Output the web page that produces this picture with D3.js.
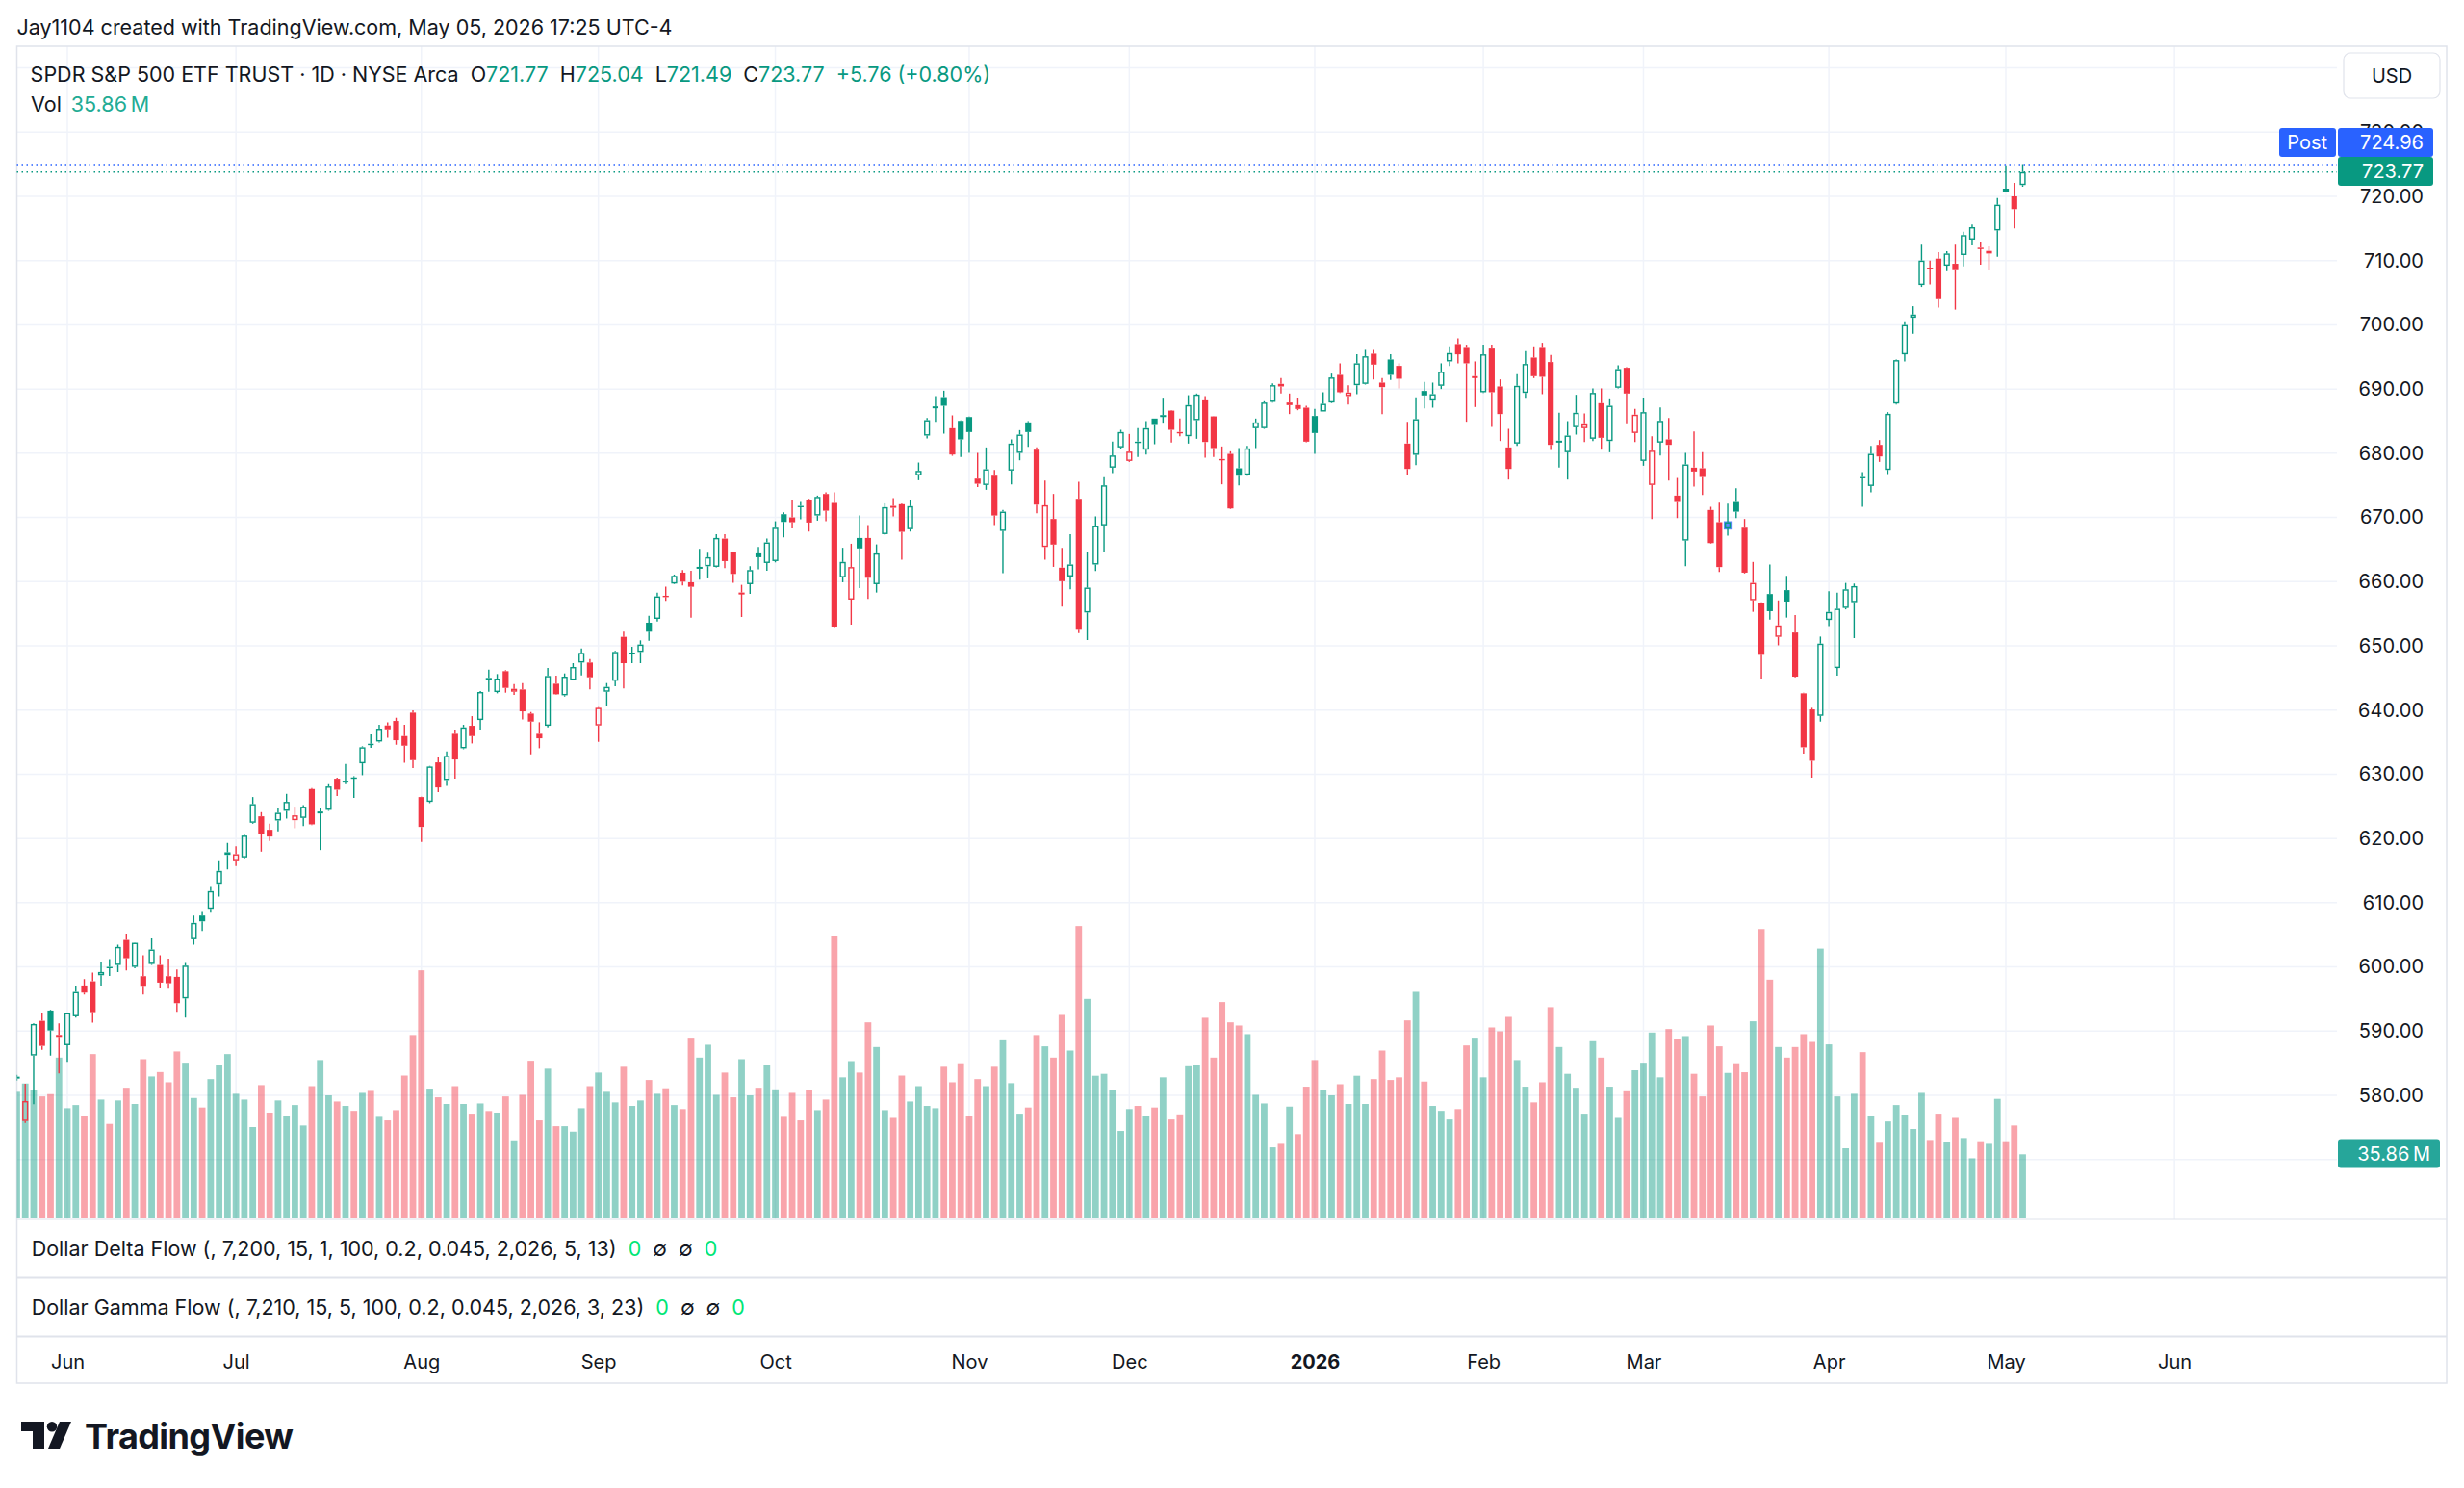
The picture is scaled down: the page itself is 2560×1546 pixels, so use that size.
<!DOCTYPE html>
<html>
<head>
<meta charset="utf-8">
<script src="https://cdnjs.cloudflare.com/ajax/libs/d3/7.8.5/d3.min.js"></script>
<style>
  html, body { margin: 0; padding: 0; background: #fff; }
  svg { display: block; font-family: Inter, "Noto Sans", Roboto, sans-serif; }
</style>
</head>
<body>
<div id="chart"></div>
<script>
// DATA — SPY daily, 2025-05-22 .. 2026-05-05
const holidays = ["2025-05-26", "2025-06-19", "2025-07-04", "2025-09-01", "2025-11-27",
  "2025-12-25", "2026-01-01", "2026-01-19", "2026-02-16", "2026-04-03", "2026-05-25"];

const opens = [
  582.6, 576.0, 586.2, 591.6, 593.2, 589.1, 587.8, 592.3, 597.1, 597.75,
  598.7, 600.0, 600.3, 604.2, 600.0, 598.55, 600.45, 600.3, 598.55, 598.45,
  595.1, 604.3, 608.0, 609.05, 612.95, 617.45, 616.45, 617.05, 622.45, 623.45,
  621.35, 622.8, 624.3, 622.85, 623.2, 627.7, 623.9, 624.45, 629.3, 628.85,
  629.5, 631.7, 634.75, 635.1, 637.6, 638.3, 635.95, 639.6, 626.45, 625.7,
  631.85, 629.1, 636.3, 634.05, 637.55, 638.45, 645.0, 642.8, 646.05, 642.85,
  643.2, 639.45, 636.3, 637.55, 644.1, 642.3, 644.7, 647.4, 647.4, 637.6,
  642.85, 644.55, 651.4, 648.8, 649.05, 653.6, 654.2, 657.8, 659.7, 661.4,
  659.9, 662.0, 662.4, 662.3, 666.7, 664.6, 658.1, 659.6, 664.4, 662.9,
  663.2, 670.5, 670.0, 671.8, 672.65, 670.3, 673.65, 672.26, 660.67, 657.2,
  666.8, 666.8, 659.6, 667.4, 671.8, 672.06, 668.16, 676.55, 682.75, 687.2,
  688.74, 683.9, 685.04, 685.64, 676.05, 675.05, 676.5, 667.9, 677.3, 680.05,
  684.8, 680.55, 665.4, 669.76, 662.17, 660.8, 672.9, 655.2, 662.67, 668.76,
  677.75, 680.9, 678.8, 681.8, 680.55, 685.4, 685.84, 686.64, 683.3, 682.65,
  685.15, 688.24, 685.74, 679.1, 679.9, 677.65, 676.65, 683.9, 683.9, 688.0,
  690.8, 687.5, 687.5, 687.1, 685.8, 686.5, 687.9, 692.2, 688.9, 690.6,
  690.8, 695.5, 691.0, 694.6, 693.6, 681.5, 679.75, 689.7, 688.2, 690.5,
  694.3, 697.0, 696.4, 691.9, 689.5, 696.3, 690.4, 680.9, 681.5, 689.4,
  694.9, 696.4, 694.2, 681.85, 680.15, 684.05, 683.9, 682.25, 687.8, 681.9,
  690.2, 693.3, 683.15, 678.8, 675.06, 681.65, 682.15, 673.4, 666.4, 677.75,
  677.65, 671.16, 669.26, 668.26, 672.4, 668.4, 657.1, 656.6, 658.07, 651.4,
  658.68, 652.08, 642.6, 640.1, 639.1, 654.03, 646.54, 655.9, 656.8, 676.3,
  674.9, 681.3, 677.4, 687.74, 695.4, 701.1, 706.2, 708.9, 710.3, 709.2,
  709.5, 710.86, 713.26, 712.0, 711.1, 714.7, 721.2, 720.0, 721.77
];
const highs = [
  583.2, 581.8, 591.2, 592.8, 593.3, 591.2, 592.9, 597.1, 598.1, 599.1,
  600.8, 601.2, 603.45, 605.2, 603.8, 601.8, 604.45, 601.8, 601.3, 599.6,
  600.6, 608.0, 608.55, 612.45, 616.45, 619.3, 618.8, 620.6, 626.45, 624.1,
  622.3, 624.8, 626.95, 624.95, 625.2, 627.85, 624.8, 628.45, 629.45, 631.6,
  629.7, 634.35, 636.2, 637.7, 638.1, 638.8, 637.7, 639.95, 626.5, 631.3,
  632.7, 633.55, 636.95, 637.7, 639.05, 642.95, 646.3, 645.6, 646.2, 644.05,
  644.2, 639.7, 638.1, 646.55, 645.35, 645.7, 647.3, 649.6, 647.95, 640.45,
  644.2, 649.2, 652.2, 649.85, 650.85, 654.7, 658.3, 659.2, 661.1, 661.8,
  661.7, 665.1, 664.5, 667.4, 667.4, 664.7, 659.5, 662.4, 665.4, 666.7,
  669.4, 670.8, 672.75, 672.4, 672.9, 673.4, 673.9, 673.9, 665.27, 665.9,
  670.3, 668.8, 665.8, 672.2, 673.0, 672.2, 672.76, 678.55, 685.5, 688.9,
  689.74, 685.9, 685.1, 685.7, 680.05, 680.9, 677.4, 671.16, 682.15, 683.6,
  685.0, 680.9, 675.75, 673.66, 665.27, 667.4, 675.55, 664.6, 670.16, 676.26,
  681.8, 683.65, 683.0, 683.9, 685.0, 685.4, 688.5, 686.74, 685.4, 689.04,
  689.3, 688.9, 685.8, 681.05, 680.3, 680.8, 681.15, 685.4, 688.1, 690.9,
  691.7, 689.3, 688.6, 687.4, 686.9, 689.5, 692.4, 694.0, 690.6, 695.4,
  696.1, 696.1, 691.7, 695.4, 694.0, 684.9, 688.7, 691.1, 691.0, 694.0,
  696.5, 697.9, 696.9, 694.3, 696.9, 696.9, 691.5, 683.8, 692.3, 695.9,
  696.5, 697.2, 695.3, 686.3, 685.0, 689.1, 686.2, 690.1, 690.1, 688.4,
  693.7, 693.4, 686.9, 688.6, 682.65, 687.14, 685.5, 676.15, 680.05, 683.4,
  680.15, 671.66, 672.3, 672.16, 674.55, 669.76, 663.07, 656.8, 662.67, 657.08,
  660.9, 654.8, 642.7, 640.35, 651.44, 658.5, 658.28, 659.8, 659.7, 677.05,
  681.15, 682.05, 686.4, 694.6, 700.4, 702.9, 712.45, 710.0, 711.3, 711.46,
  712.45, 714.5, 715.6, 712.96, 712.2, 719.75, 724.85, 722.1, 725.04
];
const lows = [
  582.3, 575.7, 578.6, 587.1, 586.2, 583.4, 585.2, 592.1, 595.7, 591.3,
  597.1, 598.6, 599.2, 599.45, 599.8, 595.7, 600.3, 596.8, 596.6, 593.0,
  592.1, 603.45, 605.6, 608.45, 610.95, 615.2, 615.7, 616.8, 622.3, 617.95,
  619.6, 621.1, 623.1, 621.6, 621.95, 622.1, 618.2, 624.3, 626.6, 628.45,
  626.3, 629.85, 634.1, 634.95, 635.7, 634.6, 631.8, 630.95, 619.45, 625.5,
  627.2, 628.2, 629.3, 633.9, 634.8, 636.95, 642.85, 642.6, 642.7, 642.35,
  638.55, 633.1, 634.05, 637.3, 642.4, 642.1, 644.6, 645.4, 643.2, 635.05,
  640.6, 643.7, 643.35, 647.3, 647.3, 650.8, 653.8, 657.0, 659.6, 659.4,
  654.4, 660.3, 660.5, 662.2, 662.1, 659.8, 654.5, 658.1, 661.9, 661.7,
  663.0, 666.9, 668.3, 669.7, 667.8, 669.5, 669.4, 652.9, 659.9, 653.3,
  659.0, 657.3, 658.3, 667.3, 670.16, 663.4, 667.8, 675.8, 682.3, 684.9,
  683.05, 679.6, 679.4, 680.05, 674.75, 674.3, 668.8, 661.3, 675.16, 678.9,
  681.0, 670.66, 663.4, 662.3, 656.1, 658.8, 652.0, 650.9, 661.67, 664.67,
  676.9, 680.65, 678.65, 679.4, 679.8, 681.4, 684.6, 681.65, 682.65, 681.5,
  682.25, 679.3, 679.4, 675.16, 671.3, 675.0, 676.5, 680.8, 683.8, 687.9,
  689.3, 686.1, 686.7, 681.7, 679.9, 686.5, 687.8, 689.4, 687.6, 689.2,
  690.7, 691.5, 686.1, 691.4, 690.1, 676.65, 678.15, 687.0, 687.1, 690.0,
  693.6, 694.0, 684.9, 687.2, 689.4, 684.1, 681.9, 675.9, 681.15, 688.5,
  691.7, 689.2, 680.5, 677.75, 675.9, 682.9, 681.75, 681.9, 680.55, 680.15,
  690.1, 684.5, 681.75, 678.05, 669.76, 679.65, 675.75, 669.9, 662.4, 674.8,
  673.5, 665.9, 661.5, 667.16, 669.9, 661.27, 655.3, 644.9, 654.1, 650.08,
  654.4, 645.1, 633.2, 629.46, 638.2, 653.08, 645.34, 655.68, 651.2, 671.66,
  673.9, 678.65, 676.75, 687.6, 694.3, 698.6, 705.9, 706.3, 702.7, 708.36,
  702.37, 709.1, 712.36, 709.36, 708.46, 710.6, 720.6, 715.0, 721.49
];
const closes = [
  582.9, 579.1, 591.1, 587.7, 590.1, 589.4, 592.8, 596.1, 596.0, 592.95,
  599.2, 599.9, 603.1, 601.35, 603.75, 597.05, 602.7, 597.55, 597.45, 594.35,
  600.2, 606.85, 607.1, 611.8, 614.95, 617.85, 617.55, 620.45, 625.35, 620.7,
  620.3, 624.0, 625.7, 623.6, 624.95, 622.2, 624.2, 628.1, 627.6, 629.0,
  629.3, 634.2, 634.65, 637.1, 637.0, 635.3, 634.45, 632.2, 621.8, 631.2,
  627.95, 632.85, 632.3, 637.3, 635.95, 642.8, 644.7, 644.9, 643.45, 643.3,
  639.8, 638.2, 635.6, 645.3, 642.45, 645.2, 646.7, 648.9, 645.1, 640.35,
  643.6, 649.05, 647.3, 648.95, 650.2, 652.2, 657.7, 657.6, 660.9, 660.0,
  659.2, 662.3, 663.8, 666.8, 663.2, 661.2, 658.3, 661.8, 663.8, 666.1,
  668.4, 669.3, 669.25, 671.7, 669.2, 673.2, 671.05, 653.0, 663.07, 662.27,
  665.17, 660.6, 664.4, 671.6, 671.5, 667.76, 671.76, 677.25, 685.15, 687.3,
  687.4, 679.8, 682.15, 683.3, 675.25, 677.5, 670.3, 670.9, 681.5, 682.9,
  683.3, 672.0, 671.9, 665.77, 660.07, 662.67, 652.5, 659.07, 668.66, 675.0,
  679.65, 683.3, 680.25, 681.7, 683.9, 684.4, 685.94, 683.65, 683.2, 687.5,
  689.14, 681.75, 680.8, 679.0, 671.4, 676.5, 680.75, 684.8, 687.9, 690.6,
  690.4, 687.9, 686.9, 681.8, 683.15, 687.7, 691.8, 689.5, 689.45, 694.0,
  695.1, 693.8, 690.3, 692.2, 691.6, 677.55, 685.3, 689.0, 689.2, 692.7,
  695.6, 695.4, 694.0, 692.0, 695.4, 689.5, 686.1, 677.55, 690.5, 693.9,
  692.0, 691.9, 681.3, 681.95, 682.75, 686.3, 684.5, 689.4, 682.4, 687.4,
  693.1, 689.3, 686.0, 686.4, 680.4, 685.04, 681.3, 672.4, 678.25, 677.15,
  676.3, 666.0, 662.27, 669.26, 670.9, 661.4, 659.8, 648.6, 655.4, 653.18,
  656.9, 645.2, 634.2, 632.1, 650.34, 655.28, 655.78, 658.8, 659.3, 676.15,
  679.9, 679.5, 686.14, 694.5, 699.97, 701.6, 710.0, 708.8, 704.0, 711.1,
  708.5, 713.96, 715.2, 711.9, 711.5, 718.7, 720.7, 718.01, 723.77
];
// volume in millions of shares
const volumes = [
  71.3, 76.0, 72.5, 68.7, 70.0, 90.7, 62.0, 63.8, 57.5, 92.7,
  66.9, 53.1, 66.4, 73.6, 64.4, 89.8, 80.0, 82.5, 76.7, 94.2,
  87.8, 67.8, 62.4, 78.5, 86.4, 92.7, 70.2, 66.9, 51.3, 75.1,
  59.5, 66.4, 57.5, 63.8, 52.2, 74.5, 89.3, 69.3, 65.8, 63.3,
  60.5, 70.7, 71.8, 57.1, 55.1, 60.9, 80.5, 103.5, 140.2, 73.1,
  68.2, 64.4, 74.5, 64.4, 58.9, 64.7, 60.4, 59.5, 68.7, 43.8,
  69.6, 88.9, 55.1, 84.4, 51.8, 51.8, 48.7, 62.0, 74.5, 82.2,
  71.3, 65.3, 85.5, 63.3, 66.4, 78.0, 70.2, 73.3, 63.8, 61.5,
  102.0, 90.7, 98.0, 69.6, 82.2, 68.2, 89.8, 69.3, 73.6, 86.5,
  72.7, 57.1, 70.7, 55.1, 72.2, 60.9, 66.9, 159.8, 79.5, 88.7,
  82.2, 110.7, 96.7, 60.9, 56.5, 80.5, 65.8, 74.5, 63.3, 62.0,
  85.5, 76.7, 87.5, 57.5, 78.5, 74.5, 85.5, 100.5, 76.2, 58.9,
  62.4, 103.5, 97.1, 90.7, 114.9, 94.7, 165.3, 124.0, 80.4, 81.5,
  72.2, 49.1, 61.5, 63.3, 57.5, 62.4, 79.5, 55.6, 58.5, 85.8,
  86.4, 113.3, 90.7, 122.2, 110.7, 108.9, 104.0, 69.6, 64.7, 39.8,
  41.8, 62.9, 47.3, 74.2, 89.3, 72.2, 69.3, 75.6, 64.4, 80.4,
  64.4, 78.5, 94.7, 78.0, 79.5, 111.8, 128.0, 77.1, 63.3, 60.5,
  55.6, 61.5, 97.6, 102.0, 79.5, 107.8, 105.6, 113.8, 89.3, 74.2,
  65.3, 76.7, 119.3, 96.7, 81.5, 73.6, 58.9, 100.0, 90.7, 74.2,
  56.5, 71.6, 83.5, 87.8, 104.9, 79.5, 106.9, 101.1, 102.9, 81.5,
  68.7, 108.9, 97.1, 82.0, 87.5, 82.4, 111.3, 163.6, 134.9, 96.7,
  90.7, 96.7, 104.0, 99.6, 152.5, 98.2, 68.7, 39.3, 70.2, 93.8,
  57.5, 42.4, 54.5, 63.8, 58.4, 50.2, 70.7, 44.0, 58.9, 42.7,
  56.5, 45.1, 33.6, 43.3, 41.8, 67.3, 43.3, 52.2, 35.86
];
const markedDays = ["2026-03-16"];
const postPrice = 724.96;

const priceTicks = [580, 590, 600, 610, 620, 630, 640, 650, 660, 670, 680, 690, 700, 710, 720, 730];
const gridPrices = [570, 580, 590, 600, 610, 620, 630, 640, 650, 660, 670, 680, 690, 700, 710, 720, 730, 740];
const monthLabels = ["Jun", "Jul", "Aug", "Sep", "Oct", "Nov", "Dec", "2026", "Feb", "Mar", "Apr", "May", "Jun"];

// LAYOUT
const W = 2560, H = 1546;
const PANE = { left: 17.5, right: 2428, top: 48, bottom: 1266 };
const FRAME_RIGHT = 2542, FRAME_BOTTOM = 1437;
const GREEN = "#089981", RED = "#F23645", BLUE = "#2962FF";
const VOL_GREEN = "rgba(8,153,129,0.45)", VOL_RED = "rgba(242,54,69,0.45)";
const TEXT = "#131722", LINE = "#E0E3EB", GRID = "#F0F3FA";
const LEGEND_FONT = 21.5;

// trading calendar (weekdays minus exchange holidays)
function tradingDays(start, end) {
  const out = [];
  const d = new Date(start + "T12:00:00Z"), stop = new Date(end + "T12:00:00Z");
  for (; d <= stop; d.setUTCDate(d.getUTCDate() + 1)) {
    const s = d.toISOString().slice(0, 10), wd = d.getUTCDay();
    if (wd === 0 || wd === 6 || holidays.includes(s)) continue;
    out.push(s);
  }
  return out;
}
const calendar = tradingDays("2025-05-22", "2026-06-30");
const monthStarts = calendar.map((s, i) => i).filter(i => i > 0 && calendar[i].slice(0, 7) !== calendar[i - 1].slice(0, 7));

const bars = opens.map((o, i) => ({
  i, date: calendar[i], o, h: highs[i], l: lows[i], c: closes[i], v: volumes[i],
  prev: i > 0 ? closes[i - 1] : o
}));

// SCALES
const x = d3.scaleLinear().domain([6, 236]).range([70, 2084]);
const y = d3.scaleLinear().domain([580, 720]).range([1138, 204]);
const yv = d3.scaleLinear().domain([0, 35.86]).range([1265, 1199.3]);
const BODY = 6.2, VOLW = 6.8;

// SVG
const svg = d3.select("#chart").append("svg")
  .attr("width", W).attr("height", H).attr("viewBox", `0 0 ${W} ${H}`);
svg.append("rect").attr("width", W).attr("height", H).attr("fill", "#fff");

svg.append("clipPath").attr("id", "pane").append("rect")
  .attr("x", PANE.left).attr("y", PANE.top)
  .attr("width", PANE.right - PANE.left).attr("height", PANE.bottom - PANE.top);

// GRID
const grid = svg.append("g").attr("clip-path", "url(#pane)");
grid.selectAll("line.h").data(gridPrices).join("line").attr("class", "h")
  .attr("x1", PANE.left).attr("x2", PANE.right)
  .attr("y1", d => y(d)).attr("y2", d => y(d))
  .attr("stroke", GRID).attr("stroke-width", 1.5);
grid.selectAll("line.v").data(monthStarts).join("line").attr("class", "v")
  .attr("x1", d => x(d)).attr("x2", d => x(d))
  .attr("y1", PANE.top).attr("y2", PANE.bottom)
  .attr("stroke", GRID).attr("stroke-width", 1.5);

// FRAME
const frame = svg.append("g").attr("stroke", LINE).attr("stroke-width", 1.5).attr("fill", "none");
frame.append("rect").attr("x", PANE.left).attr("y", PANE.top)
  .attr("width", FRAME_RIGHT - PANE.left).attr("height", FRAME_BOTTOM - PANE.top);
[1266.5, 1327.5, 1388.5].forEach(yy => {
  frame.append("line").attr("x1", PANE.left).attr("x2", FRAME_RIGHT).attr("y1", yy).attr("y2", yy).attr("stroke-width", 2);
});

// VOLUME
const plot = svg.append("g").attr("clip-path", "url(#pane)");
plot.append("g").selectAll("rect").data(bars).join("rect")
  .attr("x", d => x(d.i) - VOLW / 2).attr("width", VOLW)
  .attr("y", d => yv(d.v)).attr("height", d => yv(0) - yv(d.v))
  .attr("fill", d => d.c >= d.o ? VOL_GREEN : VOL_RED);

// CANDLES (hollow style)
const candles = plot.append("g").selectAll("g").data(bars).join("g");
candles.each(function (d) {
  const g = d3.select(this);
  const col = d.c >= d.prev ? GREEN : RED;
  const hollow = d.c > d.o;
  const top = y(Math.max(d.o, d.c)), bot = y(Math.min(d.o, d.c));
  const cx = x(d.i);
  if (markedDays.includes(d.date)) {
    g.append("rect").attr("x", cx - BODY / 2 - 1).attr("width", BODY + 2)
      .attr("y", top - 1).attr("height", bot - top + 2).attr("fill", BLUE).attr("opacity", 0.75);
  }
  g.append("line").attr("x1", cx).attr("x2", cx).attr("y1", y(d.h)).attr("y2", top)
    .attr("stroke", col).attr("stroke-width", 1.4);
  g.append("line").attr("x1", cx).attr("x2", cx).attr("y1", bot).attr("y2", y(d.l))
    .attr("stroke", col).attr("stroke-width", 1.4);
  if (hollow) {
    g.append("rect").attr("x", cx - BODY / 2 + 0.7).attr("width", BODY - 1.4)
      .attr("y", top + 0.7).attr("height", Math.max(0.6, bot - top - 1.4))
      .attr("fill", "none").attr("stroke", col).attr("stroke-width", 1.4);
  } else {
    g.append("rect").attr("x", cx - BODY / 2).attr("width", BODY)
      .attr("y", top).attr("height", Math.max(1.4, bot - top)).attr("fill", col);
  }
});

// PRICE LINES
const last = bars[bars.length - 1];
svg.append("line").attr("x1", PANE.left).attr("x2", PANE.right)
  .attr("y1", y(postPrice)).attr("y2", y(postPrice))
  .attr("stroke", BLUE).attr("stroke-width", 1.5).attr("stroke-dasharray", "1.5 3.5");
svg.append("line").attr("x1", PANE.left).attr("x2", PANE.right)
  .attr("y1", y(last.c)).attr("y2", y(last.c))
  .attr("stroke", GREEN).attr("stroke-width", 1.5).attr("stroke-dasharray", "1.5 3.5");

// PRICE AXIS
const yAxis = svg.append("g").attr("transform", "translate(2518,0)")
  .call(d3.axisRight(y).tickValues(priceTicks).tickFormat(d3.format(".2f")).tickSize(0).tickPadding(0));
yAxis.select(".domain").remove();
yAxis.selectAll("text").attr("text-anchor", "end").attr("font-size", 20)
  .attr("fill", TEXT).attr("font-family", "Inter, sans-serif");

// price labels
function tag(xl, yc, w, fill, label, anchorX) {
  svg.append("rect").attr("x", xl).attr("y", yc - 15).attr("width", w).attr("height", 30)
    .attr("rx", 3).attr("fill", fill);
  svg.append("text").attr("x", anchorX).attr("y", yc).attr("dy", "0.36em")
    .attr("text-anchor", "end").attr("font-size", 20).attr("fill", "#fff").text(label);
}
tag(2368, 148, 59, BLUE, "Post", 2418);
tag(2429, 148, 99, BLUE, postPrice.toFixed(2), 2518);
tag(2429, 178, 99, GREEN, last.c.toFixed(2), 2518);
tag(2429, 1198.5, 106, "#26A69A", d3.format(".2f")(last.v) + "\u2009M", 2525);

// USD button
svg.append("rect").attr("x", 2435).attr("y", 55).attr("width", 100).attr("height", 47)
  .attr("rx", 7).attr("fill", "#fff").attr("stroke", LINE).attr("stroke-width", 1.2);
svg.append("text").attr("x", 2485).attr("y", 79).attr("dy", "0.36em").attr("text-anchor", "middle")
  .attr("font-size", 20).attr("fill", TEXT).text("USD");

// TIME AXIS
const xAxis = svg.append("g").attr("transform", "translate(0,1415)")
  .call(d3.axisBottom(x).tickValues(monthStarts).tickFormat((d, i) => monthLabels[i]).tickSize(0).tickPadding(0));
xAxis.select(".domain").remove();
xAxis.selectAll("text").attr("y", 0).attr("dy", "0.36em").attr("font-size", 20)
  .attr("fill", TEXT).attr("font-family", "Inter, sans-serif")
  .attr("font-weight", d => calendar[d].slice(5, 7) === "01" ? 700 : 400);

// HEADER + LEGEND
svg.append("text").attr("x", 17.5).attr("y", 28).attr("dy", "0.36em")
  .attr("font-size", LEGEND_FONT).attr("fill", TEXT)
  .text("Jay1104 created with TradingView.com, May 05, 2026 17:25 UTC-4");

const legend = svg.append("text").attr("x", 31.6).attr("y", 77).attr("dy", "0.36em")
  .attr("font-size", LEGEND_FONT).attr("fill", TEXT);
legend.append("tspan").text("SPDR S&P 500 ETF TRUST \u00b7 1D \u00b7 NYSE Arca");
const chg = last.c - last.prev;
[["O", last.o], ["H", last.h], ["L", last.l], ["C", last.c]].forEach(([k, val]) => {
  legend.append("tspan").attr("dx", 12).text(k);
  legend.append("tspan").attr("fill", GREEN).text(val.toFixed(2));
});
legend.append("tspan").attr("dx", 12).attr("fill", GREEN)
  .text(`+${chg.toFixed(2)} (+${(chg / last.prev * 100).toFixed(2)}%)`);

const volLegend = svg.append("text").attr("x", 32).attr("y", 108).attr("dy", "0.36em")
  .attr("font-size", LEGEND_FONT).attr("fill", TEXT);
volLegend.append("tspan").text("Vol");
volLegend.append("tspan").attr("dx", 10).attr("fill", "#22AB94").text(d3.format(".2f")(last.v) + "\u2009M");

// INDICATOR PANES
const indicators = [
  { name: "Dollar Delta Flow (, 7,200, 15, 1, 100, 0.2, 0.045, 2,026, 5, 13)", y: 1297 },
  { name: "Dollar Gamma Flow (, 7,210, 15, 5, 100, 0.2, 0.045, 2,026, 3, 23)", y: 1358 }
];
indicators.forEach(ind => {
  const t = svg.append("text").attr("x", 32.7).attr("y", ind.y).attr("dy", "0.36em")
    .attr("font-size", LEGEND_FONT).attr("fill", TEXT);
  t.append("tspan").text(ind.name);
  t.append("tspan").attr("dx", 12).attr("fill", "#00E676").text("0");
  t.append("tspan").attr("dx", 12).text("\u2205");
  t.append("tspan").attr("dx", 12).text("\u2205");
  t.append("tspan").attr("dx", 12).attr("fill", "#00E676").text("0");
});

// LOGO
const logo = svg.append("g").attr("transform", "translate(22,1477)").attr("fill", TEXT);
logo.append("path").attr("d", "M0 0 H24 V28 H12 V10 H0 Z");
logo.append("circle").attr("cx", 32).attr("cy", 5.2).attr("r", 5.2);
logo.append("path").attr("d", "M40 0 H52 L40 28 H28 Z");
svg.append("text").attr("x", 88).attr("y", 1505).attr("font-size", 36).attr("font-weight", 700)
  .attr("fill", TEXT).attr("letter-spacing", -0.6).text("TradingView");
</script>
</body>
</html>
